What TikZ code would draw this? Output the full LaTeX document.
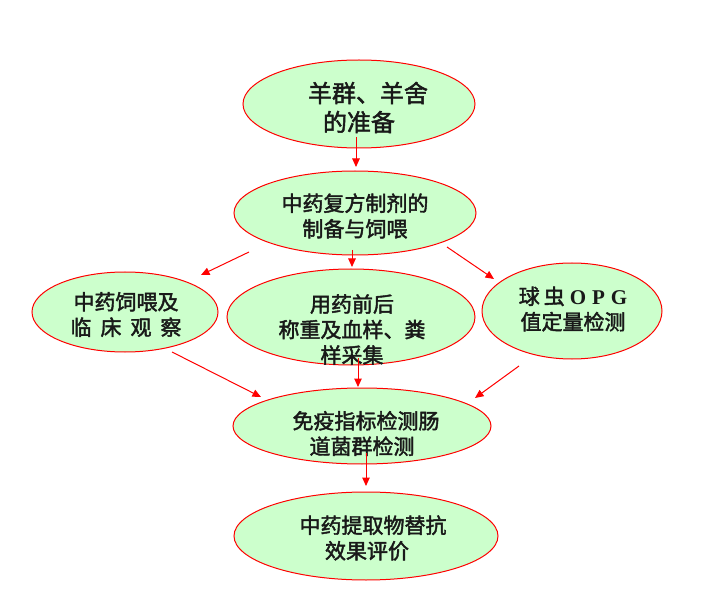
\documentclass[tikz,border=0pt]{standalone}
\usepackage{fontspec}
\newfontfamily\cjk{Noto Sans CJK SC}[FakeBold=2]
\newfontfamily\lat{Liberation Serif}
\usetikzlibrary{arrows.meta,shapes.geometric}
\definecolor{elfill}{RGB}{204,255,204}
\definecolor{elline}{RGB}{255,0,0}
\begin{document}
\begin{tikzpicture}[x=1pt,y=-1pt,
  oval/.style={ellipse,draw=elline,fill=elfill,line width=1pt,inner sep=0pt},
  lbl/.style={align=center,font=\cjk\fontsize{21}{25.5}\selectfont,inner sep=0pt,text=black!90},
  biglbl/.style={align=center,font=\cjk\fontsize{24}{29}\selectfont,inner sep=0pt,text=black!90},
  arr/.style={draw=red,line width=1pt,-{Triangle[length=8.5pt,width=7.5pt]}}]
\useasboundingbox[fill=white] (0,0) rectangle (716,615);
% ellipses
\node[oval,minimum width=232pt,minimum height=88pt] (e1) at (359,104) {};
\node[oval,minimum width=242pt,minimum height=84pt] (e2) at (355,213) {};
\node[oval,minimum width=186pt,minimum height=80pt] (e3) at (125,312) {};
\node[oval,minimum width=248pt,minimum height=96pt] (e4) at (351,317) {};
\node[oval,minimum width=180pt,minimum height=96pt] (e5) at (572,311) {};
\node[oval,minimum width=258pt,minimum height=76pt] (e6) at (362,426) {};
\node[oval,minimum width=264pt,minimum height=88pt] (e7) at (366,536) {};
% texts
\node[biglbl] (t1) at (359,107.5) {\hspace{18pt}羊群、羊舍\\的准备};
\node[lbl] (t2) at (355,216) {中药复方制剂的\\制备与饲喂};
\node[lbl] (t3) at (126,314.5) {中药饲喂及\\临\hspace{9pt}床\hspace{9pt}观\hspace{9pt}察};
\node[lbl] (t4) at (352,329.5) {用药前后\\称重及血样、粪\\样采集};
\node[lbl] (t5) at (573,309) {球\hspace{4pt}虫\hspace{5pt}{\lat\bfseries O\hspace{6pt}P\hspace{6pt}G}\\值定量检测};
\node[lbl] (t6) at (362,433.5) {\hspace{8pt}免疫指标检测肠\\道菌群检测};
\node[lbl] (t7) at (367,538) {\hspace{12pt}中药提取物替抗\\效果评价};
% arrow end points
\coordinate (s12) at (356,137); \coordinate (d12) at (356,167);
\coordinate (s23) at (249,252); \coordinate (d23) at (201,275);
\coordinate (s24) at (352,250); \coordinate (d24) at (352,267);
\coordinate (s25) at (447,247); \coordinate (d25) at (494,279);
\coordinate (s36) at (172,352); \coordinate (d36) at (261,397);
\coordinate (s46) at (358,358); \coordinate (d46) at (358,387);
\coordinate (s56) at (519,366); \coordinate (d56) at (475,398);
\coordinate (s67) at (366,453); \coordinate (d67) at (366,486);
% arrows
\draw[arr] (s12) -- (d12);
\draw[arr] (s23) -- (d23);
\draw[arr] (s24) -- (d24);
\draw[arr] (s25) -- (d25);
\draw[arr] (s36) -- (d36);
\draw[arr] (s46) -- (d46);
\draw[arr] (s56) -- (d56);
\draw[arr] (s67) -- (d67);
\end{tikzpicture}
\end{document}
